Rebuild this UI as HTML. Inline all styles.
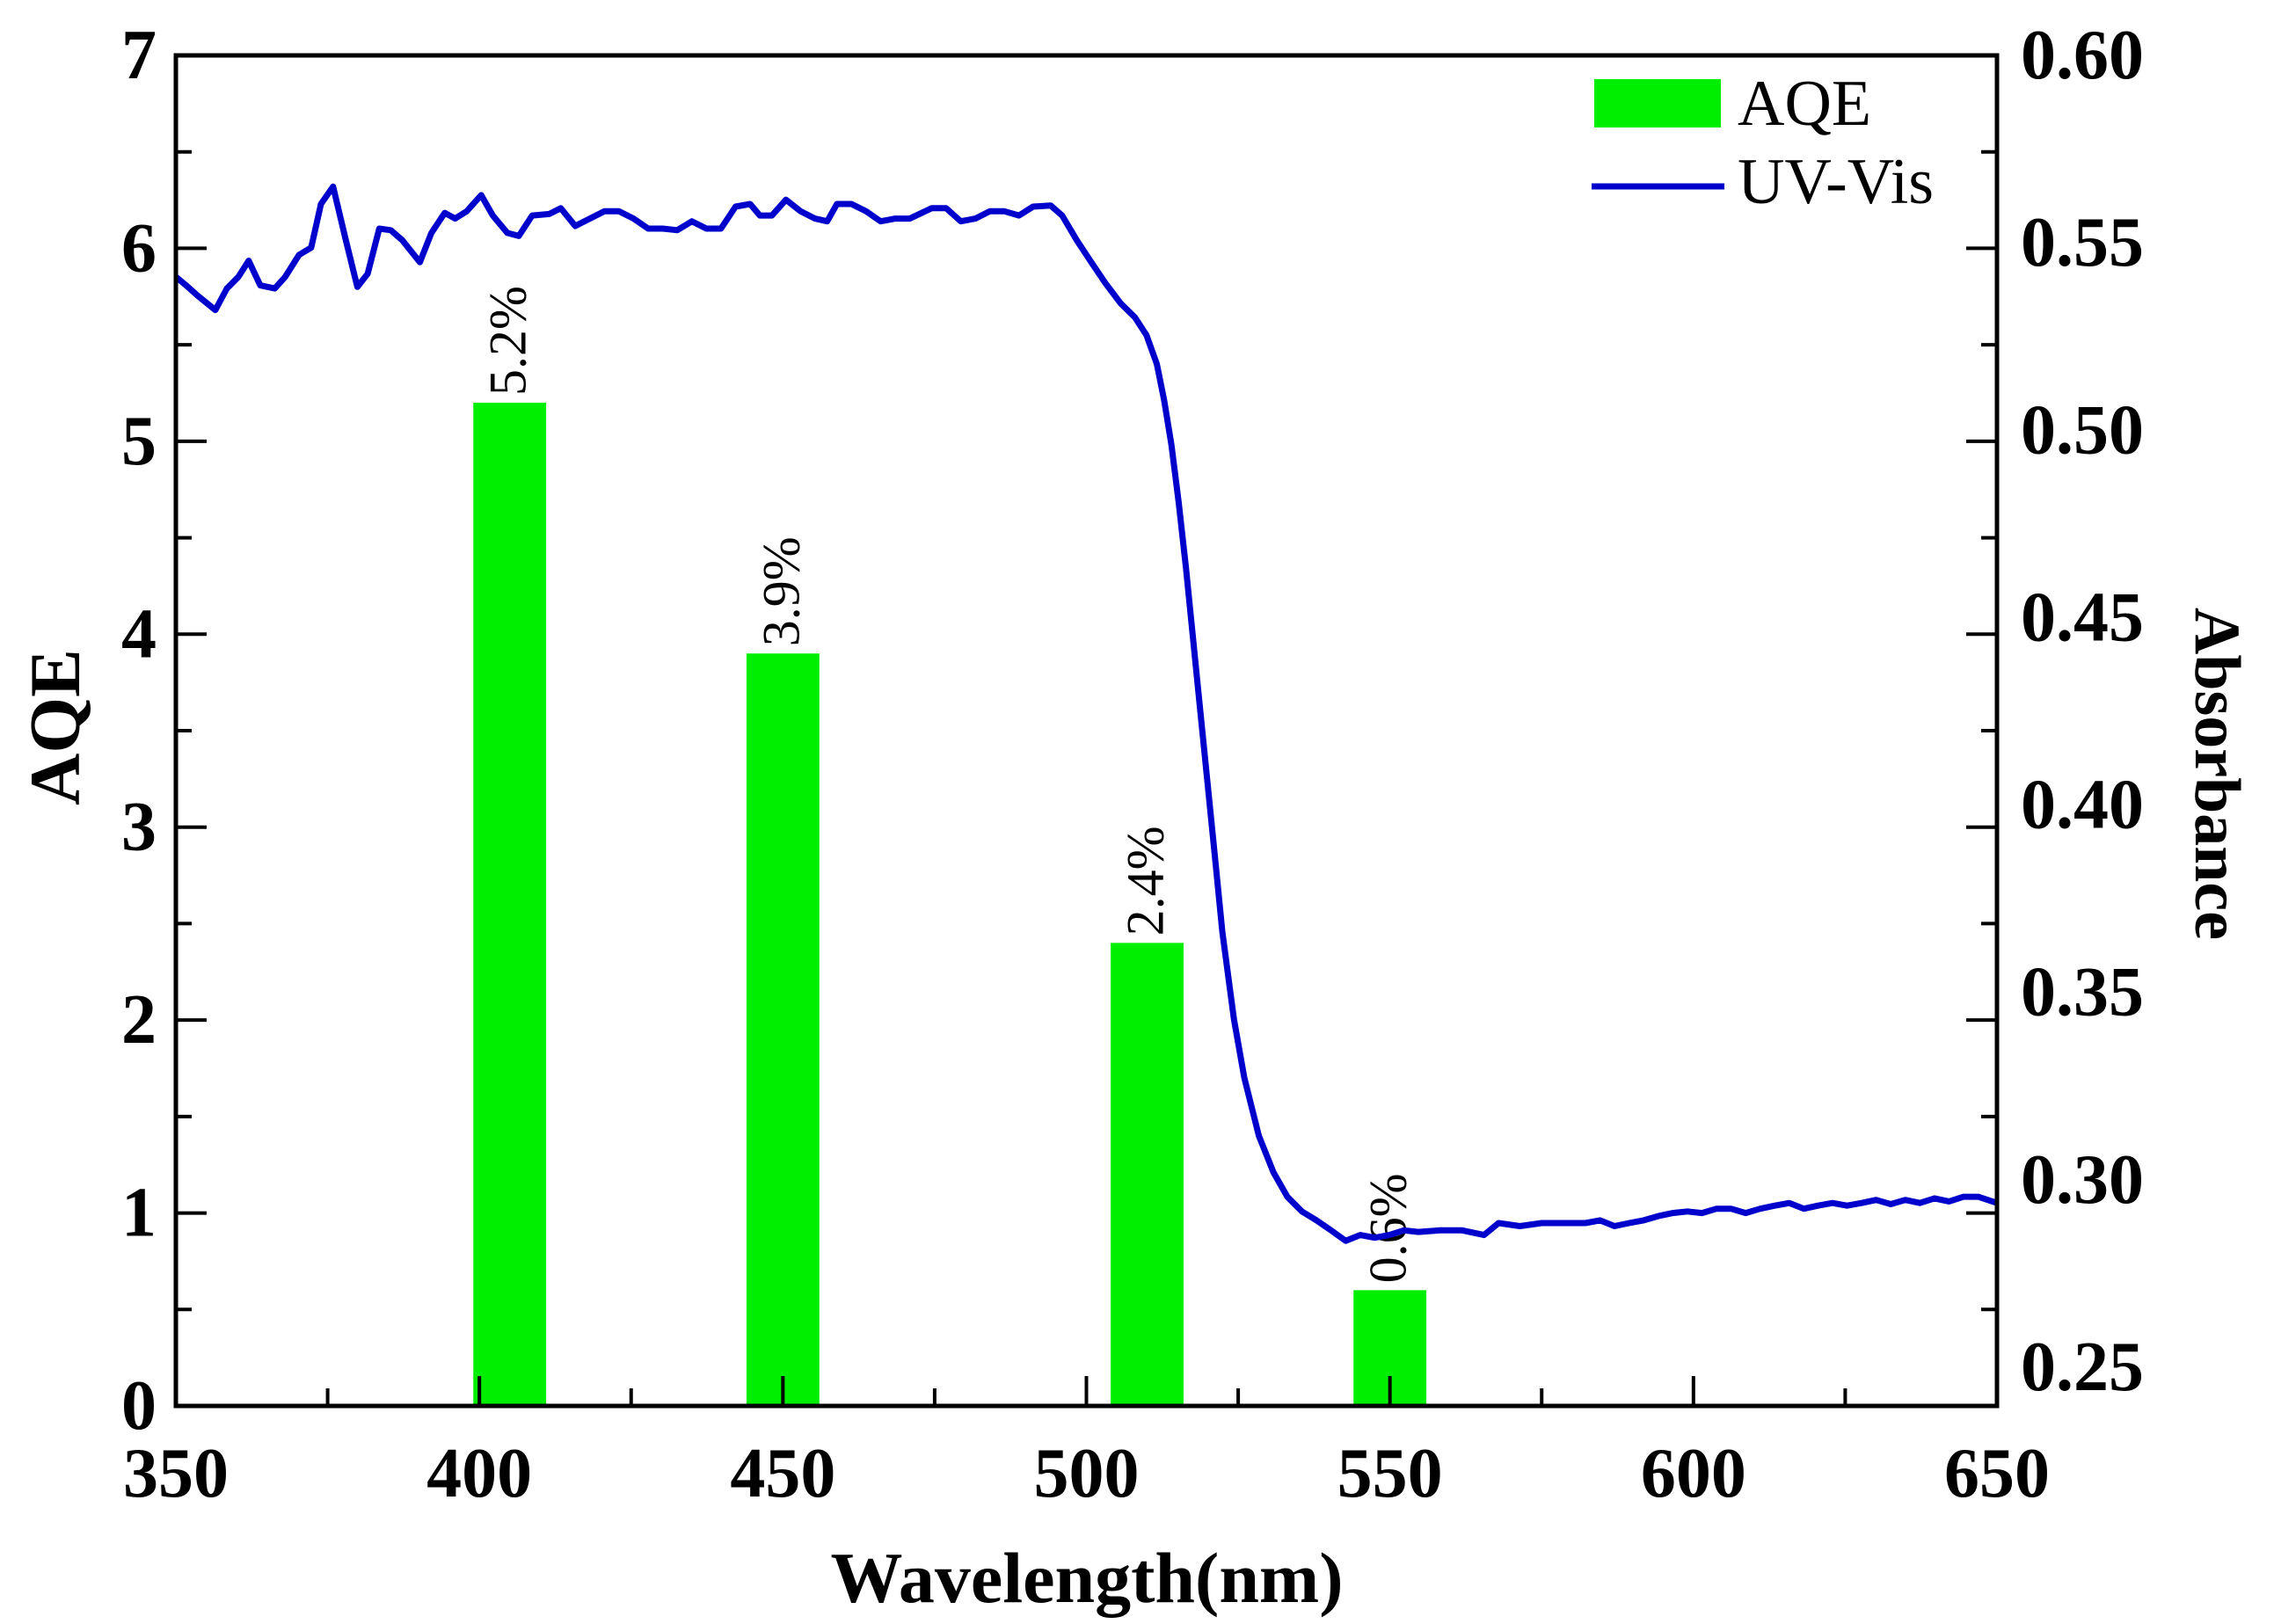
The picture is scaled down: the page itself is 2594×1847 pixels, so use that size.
<!DOCTYPE html>
<html><head><meta charset="utf-8"><style>
html,body{margin:0;padding:0;background:#fff;}
svg{display:block;font-family:"Liberation Serif",serif;}
</style></head><body>
<svg id="chart" width="2594" height="1847" viewBox="0 0 2594 1847" xmlns="http://www.w3.org/2000/svg">
<g id="bars"></g>
<g id="line"></g>
<g id="axes"></g>
<g id="legend">
  <rect x="1813" y="90" width="144" height="55" fill="#00ee00"/>
  <text x="1976" y="142" font-size="74">AQE</text>
  <line x1="1810" y1="212" x2="1961" y2="212" stroke="#0000cc" stroke-width="7"/>
  <text x="1976" y="231" font-size="74">UV-Vis</text>
</g>
<text x="1236" y="1822" font-size="82" font-weight="bold" text-anchor="middle">Wavelength(nm)</text>
<text transform="translate(90,827) rotate(-90)" font-size="82" font-weight="bold" text-anchor="middle">AQE</text>
<text transform="translate(2497,880) rotate(90)" font-size="74" font-weight="bold" text-anchor="middle">Absorbance</text>
</svg>
<script>
const barWavelengths = [405, 450, 510, 550];
const barValues = [5.2, 3.9, 2.4, 0.6];
const barLabels = ["5.2%", "3.9%", "2.4%", "0.6%"];
const uvWavelengths = [350,351.7,353.6,356.5,358.4,360.3,362,363.9,366.3,368,370.3,372.3,373.9,375.9,378,379.9,381.6,383.5,385.4,387.3,390.2,392.1,394.3,396,397.9,400.3,402.2,404.6,406.5,408.7,411.5,413.4,415.8,418.2,420.6,423,425.4,427.8,430.2,432.6,435,437.4,439.8,442.2,444.6,446.2,448.2,450.5,452.9,455.3,457.3,458.9,461.3,463.7,466.1,468.5,470.9,474.5,476.9,479.3,481.7,484.1,486.5,488.9,491.2,494.1,496,498.4,500.8,503.2,505.6,508,509.9,511.6,512.8,514,515.2,516.4,517.6,518.8,520,521.2,522.4,524.3,526,528.4,530.8,533.1,535.5,537.9,540.3,542.7,545.1,547.5,549.9,552.3,554.7,558.3,561.9,565.5,567.9,571.4,575,578.6,582.2,584.6,587,589.4,591.8,594.2,596.6,599,601.4,603.8,606.2,608.6,611,613.4,615.8,618.2,620.5,622.9,625.3,627.7,630.1,632.5,634.9,637.3,639.7,642.1,644.5,646.9,650];
const uvAbsorbance = [0.5426,0.5404,0.5377,0.5340,0.5396,0.5426,0.5468,0.5404,0.5396,0.5426,0.5483,0.5502,0.5615,0.5660,0.5521,0.5400,0.5434,0.5551,0.5547,0.5521,0.5464,0.5540,0.5592,0.5577,0.5596,0.5638,0.5585,0.5540,0.5532,0.5585,0.5589,0.5604,0.5558,0.5577,0.5596,0.5596,0.5577,0.5551,0.5551,0.5547,0.5570,0.5551,0.5551,0.5608,0.5615,0.5585,0.5585,0.5626,0.5596,0.5577,0.5570,0.5615,0.5615,0.5596,0.5570,0.5577,0.5577,0.5604,0.5604,0.5570,0.5577,0.5596,0.5596,0.5585,0.5608,0.5611,0.5585,0.5521,0.5464,0.5408,0.5358,0.5321,0.5275,0.5200,0.5106,0.4992,0.4842,0.4672,0.4483,0.4294,0.4106,0.3917,0.3728,0.3502,0.3351,0.3200,0.3106,0.3042,0.3004,0.2981,0.2955,0.2928,0.2943,0.2936,0.2943,0.2955,0.2951,0.2955,0.2955,0.2943,0.2974,0.2966,0.2974,0.2974,0.2974,0.2981,0.2966,0.2974,0.2981,0.2992,0.3000,0.3004,0.3000,0.3011,0.3011,0.3000,0.3011,0.3019,0.3026,0.3011,0.3019,0.3026,0.3019,0.3026,0.3034,0.3023,0.3034,0.3026,0.3038,0.3030,0.3042,0.3042,0.3026];
const xTicks = [350,400,450,500,550,600,650];
const yLeftTicks = [0,1,2,3,4,5,6,7];
const yRightTickLabels = ["0.25","0.30","0.35","0.40","0.45","0.50","0.55","0.60"];

const L=200,R=2271,T=63,B=1599;
const xS=w=>L+(w-350)*(R-L)/300;
const yA=v=>B-v*(B-T)/7;
const yAbs=a=>T+(0.60-a)/0.35*(B-T);
const NS="http://www.w3.org/2000/svg";
function mk(tag,attrs,parent){const e=document.createElementNS(NS,tag);for(const k in attrs)e.setAttribute(k,attrs[k]);parent.appendChild(e);return e;}

const gb=document.getElementById('bars');
const bw=xS(356)-xS(350);
barWavelengths.forEach((w,i)=>{
  const r=mk('rect',{x:xS(w)-bw,y:yA(barValues[i]),width:bw*2,height:B-yA(barValues[i]),fill:'#00ee00'},gb);
  
  
  const cx=xS(w)+18,ty=yA(barValues[i])-8;
  const t=mk('text',{transform:'translate('+cx+','+ty+') rotate(-90)','font-size':'60'},gb);
  t.textContent=barLabels[i];
  
  
});

const gl=document.getElementById('line');
const pts=uvWavelengths.map((w,i)=>xS(w).toFixed(1)+','+yAbs(uvAbsorbance[i]).toFixed(1)).join(' ');
const pl=mk('polyline',{points:pts,fill:'none',stroke:'#0000cc','stroke-width':'7','stroke-linejoin':'round'},gl);



const ga=document.getElementById('axes');
const frame=mk('rect',{x:L,y:T,width:R-L,height:B-T,fill:'none',stroke:'#000','stroke-width':'5'},ga);


for(let w=350;w<=650;w+=25){
  const major=(w%50===0);
  const ln=mk('line',{x1:xS(w),y1:B,x2:xS(w),y2:B-(major?34:20),stroke:'#000','stroke-width':'4'},ga);
  
  
}
xTicks.forEach(w=>{
  const t=mk('text',{x:xS(w),y:1702,'font-size':'80','font-weight':'bold','text-anchor':'middle'},ga);
  t.textContent=w;
  
  
});
for(let v=0;v<=7;v+=0.5){
  const major=Number.isInteger(v);
  const ln=mk('line',{x1:L,y1:yA(v),x2:L+(major?35:18),y2:yA(v),stroke:'#000','stroke-width':'4'},ga);
  
  
  const ln2=mk('line',{x1:R,y1:yA(v),x2:R-(major?35:18),y2:yA(v),stroke:'#000','stroke-width':'4'},ga);
  
  
}
yLeftTicks.forEach(v=>{
  const t=mk('text',{x:158,y:yA(v)+26,'font-size':'80','font-weight':'bold','text-anchor':'middle'},ga);
  t.textContent=v;
  
  
});
yRightTickLabels.forEach((s,i)=>{
  const y=1555-i*(1555-63)/7;
  const t=mk('text',{x:2298,y:y+26,'font-size':'80','font-weight':'bold'},ga);
  t.textContent=s;
  
  
});
</script>
</body></html>
